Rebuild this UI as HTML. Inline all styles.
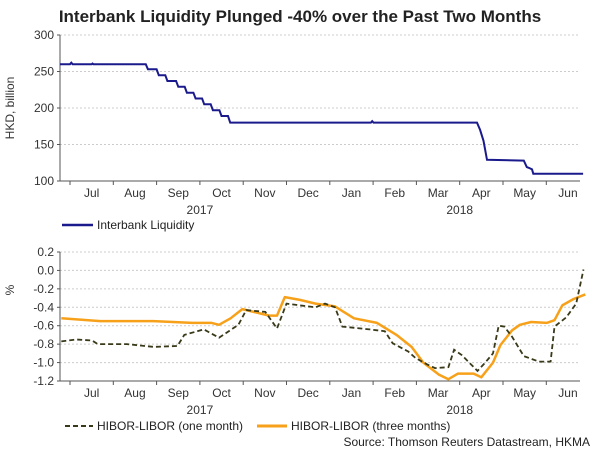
<!DOCTYPE html>
<html><head><meta charset="utf-8"><style>
body{margin:0;background:#fff;}
svg{display:block;font-family:"Liberation Sans",Arial,sans-serif;}
</style></head><body>
<svg id="c" width="600" height="450">
<text x="300" y="22" text-anchor="middle" font-size="17" font-weight="bold" fill="#222">Interbank Liquidity Plunged -40% over the Past Two Months</text>
<g id="top"></g><g id="bot"></g>
<text transform="translate(14,108) rotate(-90)" text-anchor="middle" font-size="12" fill="#333">HKD, billion</text>
<text transform="translate(14,290) rotate(-90)" text-anchor="middle" font-size="12" fill="#333">%</text>
<line x1="62" y1="225" x2="93" y2="225" stroke="#1a1a8c" stroke-width="2.5"/>
<text x="97" y="229" font-size="12" fill="#222">Interbank Liquidity</text>
<line x1="65" y1="426" x2="93" y2="426" stroke="#3a3a1a" stroke-width="2" stroke-dasharray="5,3"/>
<text x="97" y="430" font-size="12" fill="#222">HIBOR-LIBOR (one month)</text>
<line x1="257" y1="426" x2="287" y2="426" stroke="#f7a11a" stroke-width="3"/>
<text x="291" y="430" font-size="12" fill="#222">HIBOR-LIBOR (three months)</text>
<text x="590" y="446" text-anchor="end" font-size="12" fill="#222">Source: Thomson Reuters Datastream, HKMA</text>
</svg>
<script>
const months=["Jul","Aug","Sep","Oct","Nov","Dec","Jan","Feb","Mar","Apr","May","Jun"];
const topTicks=[100,150,200,250,300];
const botTicks=[0.2,0.0,-0.2,-0.4,-0.6,-0.8,-1.0,-1.2];
const liqX=[-0.23,0.0,0.03,0.06,0.5,0.52,0.54,1.75,1.8,2.0,2.05,2.2,2.25,2.45,2.5,2.65,2.7,2.85,2.9,3.05,3.1,3.25,3.3,3.45,3.5,3.65,3.7,6.95,6.98,7.01,9.4,9.47,9.55,9.63,10.48,10.55,10.6,10.67,10.7,11.85];
const liqY=[260,260,262,260,260,261,260,260,253,253,245,245,237,237,229,229,221,221,213,213,205,205,197,197,189,189,180,180,182,180,180,170,155,129,128,119,118,116,110,110];
const oneX=[-0.2,0.15,0.51,0.64,1.31,1.93,2.48,2.64,3.09,3.44,3.89,4.07,4.51,4.78,5.0,5.31,5.67,5.89,6.12,6.29,6.92,7.27,7.45,7.81,7.98,8.25,8.43,8.74,8.87,9.05,9.41,9.59,9.77,9.9,10.03,10.21,10.48,10.83,11.1,11.19,11.46,11.69,11.86];
const oneY=[-0.77,-0.75,-0.76,-0.8,-0.8,-0.83,-0.82,-0.7,-0.64,-0.73,-0.59,-0.43,-0.45,-0.63,-0.36,-0.38,-0.4,-0.36,-0.4,-0.61,-0.64,-0.66,-0.79,-0.88,-0.95,-1.02,-1.06,-1.05,-0.86,-0.92,-1.09,-1.0,-0.9,-0.6,-0.61,-0.72,-0.93,-0.99,-0.99,-0.61,-0.51,-0.36,0.01];
const threeX=[-0.2,0.7,1.93,2.82,3.27,3.44,3.71,3.98,4.6,4.78,4.96,5.31,5.67,6.12,6.56,7.09,7.54,7.89,8.16,8.52,8.74,8.96,9.32,9.5,9.77,9.94,10.21,10.39,10.65,11.01,11.19,11.37,11.63,11.9];
const threeY=[-0.52,-0.55,-0.55,-0.57,-0.57,-0.59,-0.52,-0.42,-0.49,-0.49,-0.29,-0.32,-0.36,-0.39,-0.52,-0.57,-0.7,-0.83,-1.0,-1.13,-1.18,-1.12,-1.12,-1.16,-1.0,-0.81,-0.65,-0.59,-0.56,-0.57,-0.54,-0.38,-0.31,-0.26];
const NS="http://www.w3.org/2000/svg";
const X0=60,X1=580;
const xm=m=>70+m*43.3;
function el(p,t,a){const e=document.createElementNS(NS,t);for(const k in a)e.setAttribute(k,a[k]);p.appendChild(e);return e;}
function panel(g,yTop,yBot,vMin,vMax,ticks,fmt,yearY,pfx){
  const ys=v=>yBot-(v-vMin)/(vMax-vMin)*(yBot-yTop);
  ticks.forEach(t=>{
    const l=el(g,'line',{x1:X0,x2:X1,y1:ys(t),y2:ys(t),stroke:'#ccc','stroke-dasharray':'2,2'});
    
    
    const tx=el(g,'text',{x:X0-6,y:ys(t)+4,'text-anchor':'end','font-size':12,fill:'#333'});
    tx.textContent=fmt(t);
    
    
    el(g,'line',{x1:X0-3,x2:X0,y1:ys(t),y2:ys(t),stroke:'#555'});
  });
  for(let v=vMin;v<vMax;v+=(ticks[1]-ticks[0])/5*Math.sign(ticks[1]-ticks[0])||1){}
  const ax=el(g,'path',{d:`M${X0},${yTop}V${yBot}H${X1}`,fill:'none',stroke:'#555'});
  
  
  months.forEach((mo,i)=>{
    el(g,'line',{x1:xm(i),x2:xm(i),y1:yBot,y2:yBot+4,stroke:'#555'});
    const t=el(g,'text',{x:xm(i+0.5),y:yBot+16,'text-anchor':'middle','font-size':12,fill:'#333'});
    t.textContent=mo;
    
    
  });
  [["2017",3],["2018",9]].forEach(([y,m])=>{
    const t=el(g,'text',{x:xm(m),y:yearY,'text-anchor':'middle','font-size':12,fill:'#333'});
    t.textContent=y;
    
    
  });
  return ys;
}
function line(g,xs,vs,ys,attrs,name){
  const d=xs.map((m,i)=>(i?'L':'M')+xm(m).toFixed(1)+','+ys(vs[i]).toFixed(1)).join('');
  const p=el(g,'path',Object.assign({d,fill:'none'},attrs));
  
  
}
const gt=document.getElementById('top'),gb=document.getElementById('bot');
const ysT=panel(gt,35,181,100,300,topTicks,t=>t,214,'top');
const ysB=panel(gb,252,381,-1.2,0.2,botTicks,t=>t.toFixed(1),414,'bottom');
line(gt,liqX,liqY,ysT,{stroke:'#1a1a8c','stroke-width':2},'interbank-liquidity-line');
line(gb,threeX,threeY,ysB,{stroke:'#f7a11a','stroke-width':2.5,'stroke-linejoin':'round'},'three-month-line');
line(gb,oneX,oneY,ysB,{stroke:'#3a3a1a','stroke-width':1.8,'stroke-dasharray':'5,3'},'one-month-line');
</script>
</body></html>
